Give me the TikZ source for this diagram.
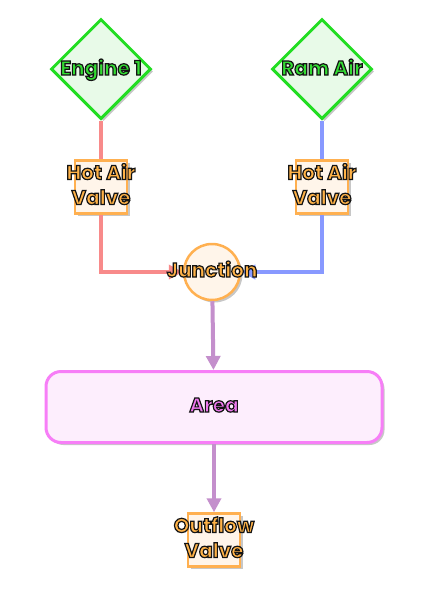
\documentclass[tikz,border=0pt]{standalone}
\usepackage{fontspec}
\setmainfont{Poppins}
\newfontfamily\ofont{Poppins}[FakeBold=6]
\usetikzlibrary{shapes.geometric,shadows,arrows.meta}
\definecolor{gline}{HTML}{22DD22}
\definecolor{gfill}{HTML}{E8FAE8}
\definecolor{oline}{HTML}{FFB050}
\definecolor{ofill}{HTML}{FFF5EA}
\definecolor{pline}{HTML}{F77EF7}
\definecolor{pfill}{HTML}{FDEEFD}
\definecolor{redge}{HTML}{F88A8A}
\definecolor{bedge}{HTML}{8899FF}
\definecolor{vedge}{HTML}{C48FCC}
% fill colour + dark outline stroke
\newcommand\otext[2]{\special{pdf:bcolor [#1] [0.08 0.08 0.08]}\begin{tabular}{@{}c@{}}#2\end{tabular}\special{pdf:ecolor}}
\tikzset{
  lbl/.style={font=\ofont\bfseries\fontsize{20}{25}\selectfont, inner sep=0pt},
  shad/.style={drop shadow={shadow xshift=2.5pt, shadow yshift=-2.5pt, opacity=.22, fill=black}},
  dia/.style={diamond, aspect=1, minimum width=100, minimum height=100, inner sep=0pt, draw=gline, fill=gfill, line width=3pt, shad},
  valve/.style={rectangle, minimum width=52, minimum height=53, inner sep=0pt, draw=oline, fill=ofill, line width=2.5pt, shad},
  junc/.style={circle, minimum size=56, inner sep=0pt, draw=oline, fill=ofill, line width=2.5pt, shad},
  area/.style={rectangle, rounded corners=15, minimum width=336, minimum height=71, inner sep=0pt, draw=pline, fill=pfill, line width=3pt, shad},
  edge/.style={line width=4pt},
  tip/.style={-{Triangle[length=14pt,width=14pt]}}
}
\begin{document}
\begin{tikzpicture}[x=1pt,y=-1pt]
\useasboundingbox[fill=white] (0,0) rectangle (426,590);
\node[dia, label={[lbl,name=e1t,yshift=-1pt]center:\otext{0.2 0.867 0.2}{Engine 1}}] (e1) at (101,69) {};
\node[dia, label={[lbl,name=rat,yshift=-1pt]center:\otext{0.2 0.867 0.2}{Ram Air}}] (ra) at (322,69) {};
\node[valve] (v1) at (101,187) {};
\node[valve] (v2) at (322,187) {};
\node[junc] (j) at (212,272) {};
\node[area] (a) at (214,407) {};
\node[valve] (ov) at (214,540) {};
\draw[edge,redge] (e1) -- (v1);
\draw[edge,bedge] (ra) -- (v2);
\draw[edge,redge,tip] (v1) |- (j);
\draw[edge,bedge,tip] (v2) |- (j);
\draw[edge,vedge,tip] (j) -- (a);
\draw[edge,vedge,tip] (a) -- (ov);
\node[lbl] (v1t) at (v1) {\otext{1 0.7 0.28}{Hot Air\\Valve}};
\node[lbl] (v2t) at (v2) {\otext{1 0.7 0.28}{Hot Air\\Valve}};
\node[lbl] (jt) at (j) {\otext{1 0.7 0.28}{Junction}};
\node[lbl] (at) at (a) {\otext{0.93 0.47 0.93}{Area}};
\node[lbl] (ovt) at (ov) {\otext{1 0.7 0.28}{Outflow\\Valve}};
\end{tikzpicture}
\end{document}
